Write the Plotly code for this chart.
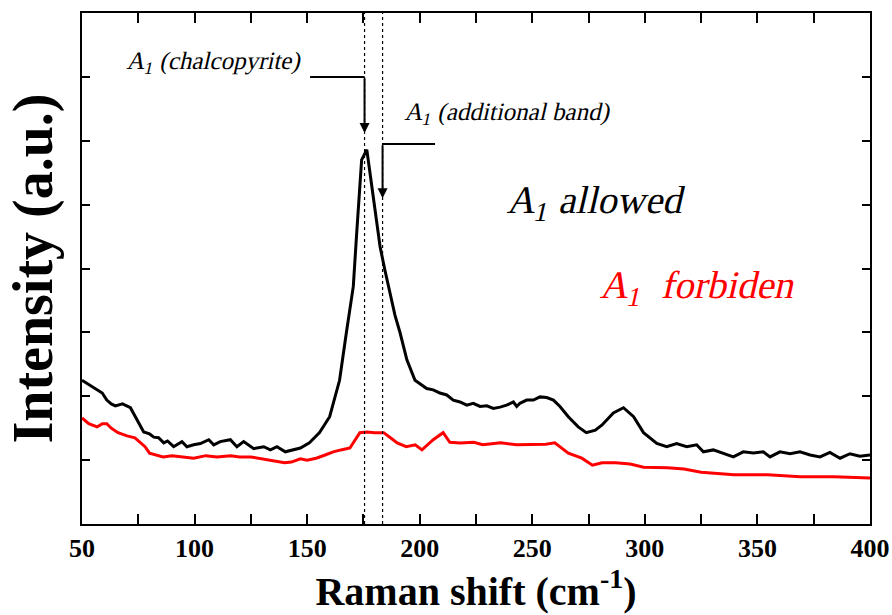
import plotly.graph_objects as go

# Raman spectra: A1-allowed (black) and A1-forbidden (red) scattering geometries
shift_allowed = [50, 53, 56.7, 59, 61, 63, 64.8, 68, 71.5, 74.4, 77.4, 80, 81.9, 84, 86.3, 88,
                 90.7, 94.4, 96.6, 99.6, 102.6, 106.3, 108.5, 111.4, 115.9, 118.8, 121.8, 126.3,
                 130.7, 133.7, 136.6, 140.3, 143.3, 145, 147, 151, 155.5, 160, 164.4, 167.4,
                 170.5, 172, 174.2, 176.5, 178, 180, 182.4, 184.5, 186.8, 189, 191.3, 194.3,
                 197.9, 200.1, 203.1, 206.0, 209.0, 212.0, 214.9, 217.9, 220.9, 223.8, 226.8,
                 229.8, 232.7, 235.7, 238.6, 241.6, 243.1, 244.5, 247.5, 250.5, 253.4, 256.4,
                 259.4, 262.3, 266, 270.4, 274, 278, 281, 286, 290.5, 295, 299.4, 305.3, 309.7,
                 314.1, 318.6, 323.0, 326.0, 330.4, 334.9, 339.3, 343.7, 348.2, 352.6, 355.6,
                 360.0, 364.5, 368.9, 373.4, 377.8, 382.2, 386.7, 391.1, 395.5, 400]
intensity_allowed = [2.25, 2.18, 2.10, 2.05, 1.94, 1.88, 1.85, 1.88, 1.82, 1.63, 1.44, 1.41,
                     1.36, 1.35, 1.27, 1.30, 1.21, 1.29, 1.21, 1.24, 1.26, 1.32, 1.24, 1.29,
                     1.32, 1.21, 1.29, 1.18, 1.21, 1.16, 1.21, 1.13, 1.16, 1.17, 1.19, 1.27,
                     1.43, 1.68, 2.25, 2.99, 3.72, 4.55, 5.70, 5.86, 5.48, 4.95, 4.34, 3.98,
                     3.62, 3.27, 2.99, 2.57, 2.25, 2.20, 2.12, 2.10, 2.05, 2.02, 1.94, 1.91,
                     1.86, 1.89, 1.84, 1.85, 1.81, 1.83, 1.86, 1.91, 1.84, 1.89, 1.94, 1.94,
                     1.99, 1.98, 1.94, 1.84, 1.68, 1.52, 1.43, 1.47, 1.55, 1.74, 1.82, 1.68,
                     1.43, 1.26, 1.21, 1.26, 1.21, 1.24, 1.13, 1.16, 1.11, 1.05, 1.13, 1.11,
                     1.13, 1.05, 1.13, 1.10, 1.13, 1.08, 1.05, 1.12, 1.03, 1.10, 1.06, 1.08]

shift_forbidden = [50, 53, 56.7, 59, 61, 63, 66, 70, 73.5, 78, 80, 83, 86, 90, 94, 99.6, 105, 110,
                   116, 120, 125, 130, 135, 140, 143, 147, 150, 154, 158, 161.6, 165, 169, 173.4,
                   176.5, 180, 184, 187, 190, 194, 198, 201, 206, 210.4, 213.4, 218, 224, 228, 236,
                   243, 251, 256, 260, 266, 272, 276.7, 281, 287, 293.5, 299.4, 310, 317.4, 325,
                   339.6, 354.5, 369, 384, 400]
intensity_forbidden = [1.66, 1.57, 1.52, 1.57, 1.57, 1.50, 1.43, 1.38, 1.35, 1.21, 1.11, 1.08,
                       1.05, 1.07, 1.05, 1.03, 1.07, 1.05, 1.07, 1.05, 1.05, 1.02, 1.00, 0.96,
                       0.97, 1.02, 1.00, 1.03, 1.08, 1.13, 1.16, 1.19, 1.43, 1.44, 1.43, 1.43,
                       1.35, 1.27, 1.21, 1.24, 1.16, 1.32, 1.43, 1.28, 1.27, 1.28, 1.24, 1.27,
                       1.24, 1.24, 1.25, 1.27, 1.11, 1.03, 0.92, 0.96, 0.96, 0.94, 0.89, 0.88,
                       0.86, 0.81, 0.77, 0.77, 0.74, 0.74, 0.72]

# Mode positions marked by dotted guides (cm-1)
mode_chalcopyrite = 175.5
mode_additional = 183.5

x_ticks = [50, 100, 150, 200, 250, 300, 350, 400]

SERIF = "Liberation Serif"

fig = go.Figure()
fig.add_trace(go.Scatter(x=shift_allowed, y=intensity_allowed, mode="lines",
                         line=dict(color="black", width=3), showlegend=False))
fig.add_trace(go.Scatter(x=shift_forbidden, y=intensity_forbidden, mode="lines",
                         line=dict(color="red", width=3), showlegend=False))

for xm in (mode_chalcopyrite, mode_additional):
    fig.add_shape(type="line", xref="x", yref="y", x0=xm, x1=xm, y0=0, y1=8,
                  line=dict(color="black", width=1.2, dash="dot"))

# Leader lines with arrows pointing at the two A1 modes
fig.add_shape(type="line", xref="x", yref="y", x0=151.3, x1=mode_chalcopyrite, y0=7.0, y1=7.0,
              line=dict(color="black", width=2))
fig.add_annotation(x=mode_chalcopyrite, y=6.12, ax=mode_chalcopyrite, ay=7.0,
                   xref="x", yref="y", axref="x", ayref="y", text="", showarrow=True,
                   arrowhead=2, arrowsize=1, arrowwidth=2, arrowcolor="black")
fig.add_shape(type="line", xref="x", yref="y", x0=mode_additional, x1=206.8, y0=5.95, y1=5.95,
              line=dict(color="black", width=2))
fig.add_annotation(x=mode_additional, y=5.10, ax=mode_additional, ay=5.95,
                   xref="x", yref="y", axref="x", ayref="y", text="", showarrow=True,
                   arrowhead=2, arrowsize=1, arrowwidth=2, arrowcolor="black")

labels = [
    ("A<sub>1</sub> (chalcopyrite)", 69.1, 7.22, 25, "black"),
    ("A<sub>1</sub> (additional band)", 192.6, 6.43, 25, "black"),
    ("A<sub>1</sub> allowed", 237.9, 5.04, 39, "black"),
    ("A<sub>1</sub>  forbiden", 279.2, 3.71, 39, "red"),
]
for text, x, y, size, color in labels:
    fig.add_annotation(x=x, y=y, xref="x", yref="y", text=text, showarrow=False,
                       xanchor="left", yanchor="middle", borderpad=0,
                       font=dict(family=SERIF, size=size, color=color))

fig.update_xaxes(range=[50, 400], tickvals=x_ticks, ticks="inside", ticklen=10, tickwidth=2,
                 minor=dict(dtick=25, ticks="inside", ticklen=10, tickwidth=2, tickcolor="black"),
                 showline=True, linewidth=2, linecolor="black", mirror="ticks",
                 showgrid=False, zeroline=False, tickcolor="black", automargin=False,
                 tickfont=dict(family=SERIF, size=26, color="black", weight="bold"),
                 title=dict(text="<b>Raman shift (cm<sup>-1</sup>)</b>", standoff=7,
                            font=dict(family=SERIF, size=40, color="black")))
fig.update_yaxes(range=[0, 8], dtick=1, ticks="inside", ticklen=8, tickwidth=1.5,
                 showticklabels=False, showline=True, linewidth=2, linecolor="black",
                 mirror="ticks", showgrid=False, zeroline=False, tickcolor="black",
                 automargin=False,
                 title=dict(text="<b>Intensity (a.u.)</b>", standoff=9,
                            font=dict(family=SERIF, size=56, color="black")))

fig.update_layout(width=892, height=615, margin=dict(l=82, r=22, t=13, b=91),
                  paper_bgcolor="white", plot_bgcolor="white", showlegend=False)

# Slant the serif label text (oblique rendering of the regular face)
slant_js = """
var gd = document.getElementById('{plot_id}');
gd.querySelectorAll('text.annotation-text').forEach(function (t) {
    t.style.transformBox = 'fill-box';
    t.style.transformOrigin = '50% 75%';
    t.style.transform = 'skewX(-13deg)';
});
"""

fig.write_html("out.html", post_script=slant_js)
